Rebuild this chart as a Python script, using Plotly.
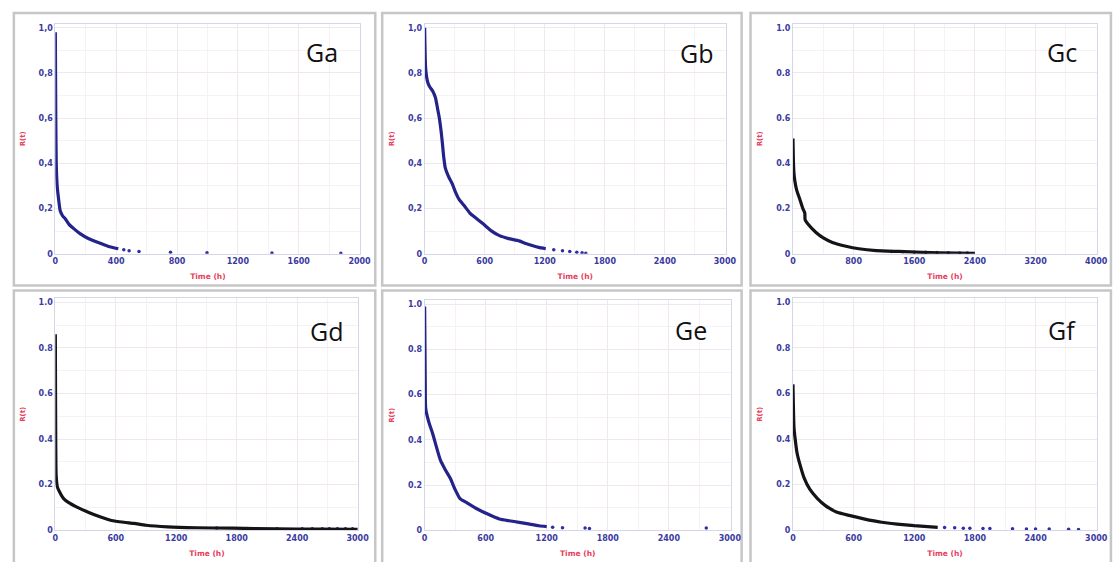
import plotly.graph_objects as go

W, H = 1117, 562

# ---------------- data ----------------
panel_names = ["Ga", "Gb", "Gc", "Gd", "Ge", "Gf"]

Ga_t = [0, 3, 6, 12, 20, 32, 50, 65, 90, 123, 160, 220, 260, 304, 350, 414]
Ga_R = [0.98, 0.60, 0.40, 0.30, 0.25, 0.19, 0.165, 0.155, 0.13, 0.11, 0.09, 0.066, 0.055, 0.044, 0.032, 0.022]
Ga_tail_t = [450, 485, 550, 757, 997, 1424, 1877]
Ga_tail_R = [0.018, 0.013, 0.01, 0.007, 0.004, 0.003, 0.002]

Gb_t = [0, 10, 30, 49, 80, 108, 130, 147, 165, 177, 190, 206, 240, 275, 310, 344, 400, 452, 520, 590,
        670, 747, 840, 944, 1010, 1082, 1140, 1210]
Gb_R = [1.0, 0.82, 0.76, 0.74, 0.72, 0.69, 0.64, 0.60, 0.54, 0.49, 0.43, 0.38, 0.34, 0.31, 0.27, 0.24,
        0.21, 0.18, 0.155, 0.13, 0.10, 0.08, 0.067, 0.057, 0.045, 0.035, 0.028, 0.022]
Gb_tail_t = [1290, 1377, 1450, 1520, 1573, 1610]
Gb_tail_R = [0.018, 0.013, 0.010, 0.007, 0.004, 0.002]

Gc_t = [0, 5, 12, 26, 50, 91, 130, 156, 160, 200, 300, 400, 520, 700, 870, 1100, 1390, 1700, 2170, 2400]
Gc_R = [0.51, 0.42, 0.36, 0.32, 0.28, 0.24, 0.20, 0.18, 0.15, 0.13, 0.095, 0.07, 0.05, 0.033, 0.022,
        0.014, 0.010, 0.006, 0.003, 0.002]
Gc_tail_t = [1300, 1450, 1600, 1750, 1900, 2050, 2200, 2300]
Gc_tail_R = [0.010, 0.009, 0.007, 0.006, 0.005, 0.004, 0.003, 0.003]

Gd_t = [0, 2, 4, 6, 8, 20, 40, 80, 137, 200, 332, 450, 557, 680, 782, 900, 1114, 1400, 1759, 2200, 2600, 3000]
Gd_R = [0.86, 0.60, 0.40, 0.28, 0.24, 0.19, 0.17, 0.14, 0.12, 0.105, 0.078, 0.058, 0.043, 0.035, 0.030,
        0.022, 0.015, 0.011, 0.009, 0.006, 0.005, 0.004]
Gd_tail_t = [1600, 1900, 2200, 2450, 2550, 2650, 2720, 2800, 2880, 2950]
Gd_tail_R = [0.010, 0.008, 0.007, 0.006, 0.006, 0.006, 0.006, 0.007, 0.007, 0.006]

Ge_t = [0, 3, 6, 10, 40, 77, 115, 155, 200, 252, 300, 348, 420, 513, 620, 735, 830, 929, 1020, 1123, 1200]
Ge_R = [0.99, 0.82, 0.65, 0.54, 0.48, 0.43, 0.37, 0.31, 0.27, 0.23, 0.18, 0.14, 0.12, 0.095, 0.072,
        0.05, 0.042, 0.035, 0.028, 0.02, 0.016]
Ge_tail_t = [1258, 1355, 1577, 1620, 2768]
Ge_tail_R = [0.013, 0.011, 0.010, 0.008, 0.010]

Gf_t = [0, 4, 10, 19, 40, 68, 110, 166, 240, 321, 430, 555, 700, 877, 1030, 1198, 1432]
Gf_R = [0.64, 0.55, 0.45, 0.41, 0.34, 0.29, 0.23, 0.18, 0.14, 0.108, 0.08, 0.065, 0.05, 0.035, 0.027,
        0.02, 0.013]
Gf_tail_t = [1500, 1600, 1685, 1750, 1880, 1948, 2172, 2310, 2400, 2535, 2727, 2825]
Gf_tail_R = [0.012, 0.011, 0.009, 0.009, 0.008, 0.008, 0.006, 0.005, 0.005, 0.005, 0.004, 0.003]

x_ticks = {
    "Ga": [0, 400, 800, 1200, 1600, 2000],
    "Gb": [0, 600, 1200, 1800, 2400, 3000],
    "Gc": [0, 800, 1600, 2400, 3200, 4000],
    "Gd": [0, 600, 1200, 1800, 2400, 3000],
    "Ge": [0, 600, 1200, 1800, 2400, 3000],
    "Gf": [0, 600, 1200, 1800, 2400, 3000],
}
y_ticks = [0, 0.2, 0.4, 0.6, 0.8, 1.0]
y_text_comma = ["0", "0,2", "0,4", "0,6", "0,8", "1,0"]
y_text_dot = ["0", "0.2", "0.4", "0.6", "0.8", "1.0"]
x_title = "Time (h)"
y_title = "R(t)"

series = {
    "Ga": (Ga_t, Ga_R, Ga_tail_t, Ga_tail_R),
    "Gb": (Gb_t, Gb_R, Gb_tail_t, Gb_tail_R),
    "Gc": (Gc_t, Gc_R, Gc_tail_t, Gc_tail_R),
    "Gd": (Gd_t, Gd_R, Gd_tail_t, Gd_tail_R),
    "Ge": (Ge_t, Ge_R, Ge_tail_t, Ge_tail_R),
    "Gf": (Gf_t, Gf_R, Gf_tail_t, Gf_tail_R),
}

# ---------------- layout geometry (pixels) ----------------
plot_px = {  # x0, x1, ytop, ybottom
    "Ga": (53, 362, 24, 256),
    "Gb": (427, 732, 24, 256),
    "Gc": (800, 1108, 24, 256),
    "Gd": (53, 360, 301, 535),
    "Ge": (427, 737, 303, 535),
    "Gf": (800, 1108, 301, 535),
}
frame_px = {
    "Ga": (11, 377, 13, 288),
    "Gb": (384, 748, 13, 288),
    "Gc": (757, 1122, 13, 288),
    "Gd": (11, 377, 293, 570),
    "Ge": (384, 748, 293, 570),
    "Gf": (757, 1122, 293, 570),
}
label_px = {"Ga": (323, 52), "Gb": (702, 53), "Gc": (1072, 52),
            "Gd": (328, 334), "Ge": (697, 333), "Gf": (1072, 333)}
fit_black = {"Ga": False, "Gb": False, "Gc": True, "Gd": True, "Ge": False, "Gf": True}

NAVY = "#23238a"
DOT = "#2e2ea6"
BLACK = "#141418"
TICK_COL = "#3a3aa0"
TITLE_COL = "#e8405c"

fig = go.Figure()
layout = dict(width=W, height=H, margin=dict(l=0, r=0, t=0, b=0),
              paper_bgcolor="white", plot_bgcolor="white", showlegend=False)
shapes, annotations = [], []

for i, name in enumerate(panel_names):
    k = "" if i == 0 else str(i + 1)
    xa, ya = "x" + k, "y" + k
    t, R, tt, tR = series[name]
    xmax = x_ticks[name][-1]
    line_col = BLACK if fit_black[name] else NAVY
    # tail / empirical points
    fig.add_trace(go.Scatter(x=tt, y=tR, mode="markers", xaxis=xa, yaxis=ya,
                             marker=dict(color=DOT, size=3.5), hoverinfo="x+y"))
    # main curve
    fig.add_trace(go.Scatter(x=t, y=R, mode="lines", xaxis=xa, yaxis=ya,
                             line=dict(color=line_col, width=3.2, shape="spline", smoothing=0.5),
                             hoverinfo="x+y"))
    x0, x1, yt, yb = plot_px[name]
    ax_common = dict(showline=True, mirror=True, linecolor="#d6d6e6", linewidth=1,
                     gridcolor="#f1e7ef", gridwidth=1, zeroline=False, ticks="",
                     tickfont=dict(family="DejaVu Sans", size=8, color=TICK_COL, weight="bold"))
    layout["xaxis" + k] = dict(
        domain=[x0 / W, x1 / W], anchor=ya, range=[0, xmax * 1.003],
        tickvals=x_ticks[name], ticktext=[str(v) for v in x_ticks[name]],
        title=dict(text=x_title, font=dict(family="DejaVu Sans", size=7.5, color=TITLE_COL,
                                           weight="bold"), standoff=8),
        minor=dict(dtick=x_ticks[name][1] / 2, showgrid=True, gridcolor="#f6f1f5"),
        **ax_common)
    ytext = y_text_comma if name in ("Ga", "Gb") else y_text_dot
    layout["yaxis" + k] = dict(
        domain=[1 - yb / H, 1 - yt / H], anchor=xa, range=[0, 1.0175],
        tickvals=y_ticks, ticktext=ytext,
        title=dict(text=y_title, font=dict(family="DejaVu Sans", size=7, color=TITLE_COL,
                                           weight="bold"), standoff=12),
        minor=dict(dtick=0.1, showgrid=True, gridcolor="#f6f1f5"),
        **ax_common)
    fx0, fx1, fy0, fy1 = frame_px[name]
    shapes.append(dict(type="rect", xref="paper", yref="paper",
                       x0=fx0 / W, x1=fx1 / W, y0=1 - fy1 / H, y1=1 - fy0 / H,
                       line=dict(color="#c6c6c6", width=2.5), fillcolor="rgba(0,0,0,0)",
                       layer="below"))
    lx, ly = label_px[name]
    annotations.append(dict(text=name, xref="paper", yref="paper", x=lx / W, y=1 - ly / H,
                            xanchor="center", yanchor="middle", showarrow=False,
                            font=dict(family="Open Sans", size=25, color="#111111")))

layout["shapes"] = shapes
layout["annotations"] = annotations
fig.update_layout(**layout)
fig.write_html("out.html", config={"displayModeBar": False},
               post_script="document.body.style.margin='0';document.body.style.overflow='hidden';")
